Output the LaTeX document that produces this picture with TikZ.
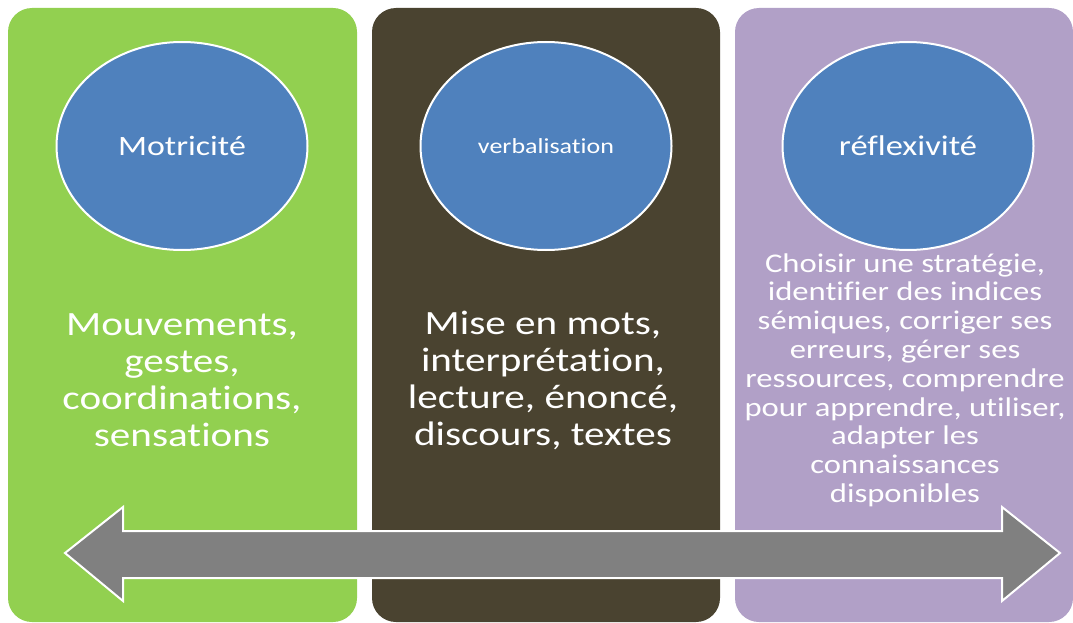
\documentclass[tikz,border=0pt]{standalone}
\usepackage{fontspec}
\setmainfont{Carlito}[Ligatures={CommonOff}]
\usetikzlibrary{shapes.geometric}
\definecolor{vert}{HTML}{92D050}
\definecolor{olive}{HTML}{4A4330}
\definecolor{mauve}{HTML}{B1A0C7}
\definecolor{bleu}{HTML}{4F81BD}
\definecolor{gris}{HTML}{808080}
\newcommand{\etire}[1]{\scalebox{1.21}[1]{#1}}
\begin{document}
\begin{tikzpicture}[x=1pt,y=-1pt,
    colonne/.style={rounded corners=24pt},
    bulle/.style={ellipse,draw=white,line width=2pt,fill=bleu,inner sep=0pt,
      minimum width=251pt,minimum height=208pt,text=white},
    corps/.style={text=white,align=center,xscale=1.21,transform shape,
      font=\fontsize{34}{37}\selectfont}]
    \useasboundingbox (0,0) rectangle (1073,623);
    % les trois colonnes
    \fill[colonne,vert] (8,8) rectangle (357,622);
    \fill[colonne,olive] (372,8) rectangle (720,622);
    \fill[colonne,mauve] (735,8) rectangle (1073,622);
    % les bulles
    \node[bulle,font=\fontsize{28}{30}\selectfont] (motricite) at (182,146) {\etire{Motricité}};
    \node[bulle,font=\fontsize{21.5}{24}\selectfont] (verbal) at (546,146) {\etire{verbalisation}};
    \node[bulle,font=\fontsize{28.5}{30}\selectfont] (reflex) at (908,146) {\etire{réflexivité}};
    % les textes
    \node[corps] (mouv) at (182,380) {Mouvements,\\gestes,\\coordinations,\\sensations};
    \node[corps] (mots) at (543,380) {Mise en mots,\\interprétation,\\lecture, énoncé,\\discours, textes};
    \node[corps,font=\fontsize{27}{28.8}\selectfont] (strat) at (905,380)
      {Choisir une stratégie,\\identifier des indices\\sémiques, corriger ses\\erreurs, gérer ses\\ressources, comprendre\\pour apprendre, utiliser,\\adapter les\\connaissances\\disponibles};
    % la double fleche
    \draw[draw=white,line width=2pt,fill=gris,line join=miter]
      (65,553) -- (123,507) -- (123,531) -- (1002,531) -- (1002,507) -- (1060,553)
      -- (1002,601) -- (1002,578) -- (123,578) -- (123,601) -- cycle;
\end{tikzpicture}
\end{document}
